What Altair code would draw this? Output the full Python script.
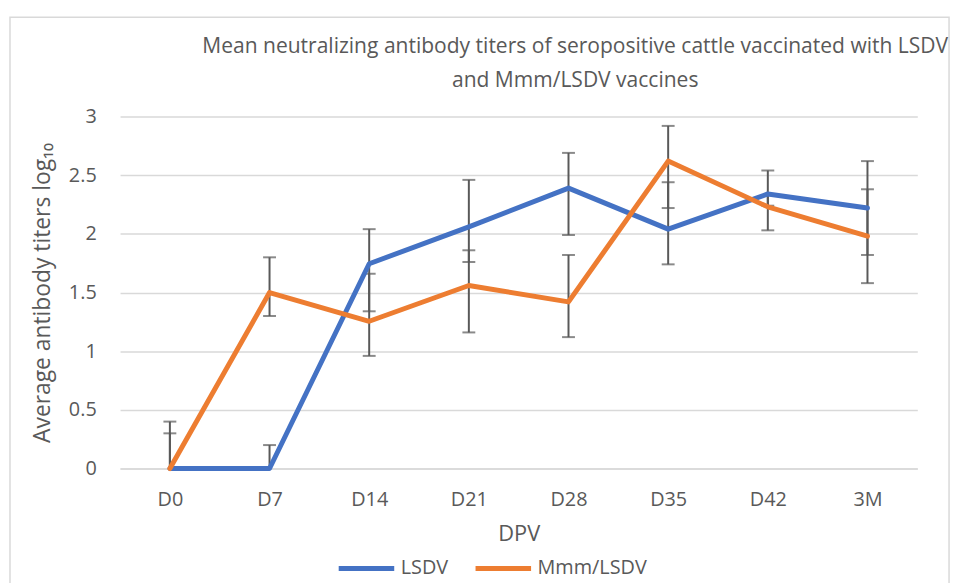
import altair as alt
import pandas as pd

days = ["D0", "D7", "D14", "D21", "D28", "D35", "D42", "3M"]
series_names = ["LSDV", "Mmm/LSDV"]

lsdv_mean = [0.0, 0.0, 1.745, 2.06, 2.39, 2.04, 2.34, 2.22]
lsdv_upper = [0.40, 0.20, 2.04, 2.46, 2.69, 2.44, 2.54, 2.62]
lsdv_lower = [0.0, 0.0, 1.34, 1.76, 1.99, 1.74, 2.24, 1.82]

mmm_mean = [0.0, 1.50, 1.255, 1.56, 1.42, 2.62, 2.23, 1.98]
mmm_upper = [0.30, 1.80, 1.66, 1.86, 1.82, 2.92, 2.33, 2.38]
mmm_lower = [0.0, 1.30, 0.96, 1.16, 1.12, 2.22, 2.03, 1.58]

colors = ["#4472C4", "#ED7D31"]

rows = []
for name, m, u, l in [("LSDV", lsdv_mean, lsdv_upper, lsdv_lower),
                      ("Mmm/LSDV", mmm_mean, mmm_upper, mmm_lower)]:
    for d, mv, uv, lv in zip(days, m, u, l):
        rows.append({"day": d, "series": name, "mean": mv, "upper": uv, "lower": lv})
df = pd.DataFrame(rows)

caps = df.melt(id_vars=["day", "series"], value_vars=["upper", "lower"],
               var_name="end", value_name="cap")
caps = caps[caps["cap"] > 0]

FONT = "Open Sans"
GREY = "#595959"

x_enc = alt.X("day:N", sort=days, scale=alt.Scale(type="point", padding=0.5),
              axis=alt.Axis(title="DPV", labelFontSize=20, labelColor=GREY,
                            titleFontSize=22, titleColor=GREY, titleFontWeight="normal",
                            labelPadding=21, titlePadding=15, ticks=False,
                            domainColor="#d9d9d9", domainWidth=1.5, labelAngle=0,
                            grid=False))
y_scale = alt.Scale(domain=[0, 3])
y_axis = alt.Axis(title="Average antibody titers log₁₀", values=[0, 0.5, 1, 1.5, 2, 2.5, 3],
                  format="~g",
                  labelFontSize=20, labelColor=GREY, titleFontSize=23, titleColor=GREY,
                  titleFontWeight="normal", labelPadding=24, titlePadding=14,
                  ticks=False, domain=False, gridColor="#d9d9d9", gridWidth=1.5)

base = alt.Chart(df)

frame = alt.Chart(df).mark_rect(fill=None, stroke="#d9d9d9", strokeWidth=1.5).encode(
    x=alt.value(-111), x2=alt.value(836), y=alt.value(-100), y2=alt.value(480)
).transform_filter(alt.datum.day == "D0").transform_filter(alt.datum.series == "LSDV")

rules = base.mark_rule(color="#595959", strokeWidth=2).encode(
    x=x_enc,
    y=alt.Y("lower:Q", scale=y_scale, axis=y_axis),
    y2="upper:Q",
)

ticks = alt.Chart(caps).mark_tick(color="#595959", thickness=2, size=13).encode(
    x=alt.X("day:N", sort=days),
    y=alt.Y("cap:Q", scale=y_scale),
)

lines = base.mark_line(strokeWidth=5, strokeCap="round", strokeJoin="round").encode(
    x=alt.X("day:N", sort=days),
    y=alt.Y("mean:Q", scale=y_scale),
    color=alt.Color("series:N", sort=series_names,
                    scale=alt.Scale(domain=series_names, range=colors),
                    legend=alt.Legend(title=None, orient="none", direction="horizontal",
                                      legendX=218, legendY=425, symbolType="stroke",
                                      symbolStrokeWidth=5, symbolSize=3136,
                                      labelFontSize=20, labelColor=GREY,
                                      columnPadding=17, labelOffset=4)),
)

chart = alt.layer(frame, rules, ticks, lines).properties(
    width=804, height=355,
    title=alt.TitleParams(
        text=["Mean neutralizing antibody titers of seropositive cattle vaccinated with LSDV",
              "and Mmm/LSDV vaccines"],
        fontSize=21.2, font=FONT, color=GREY, fontWeight="normal",
        lineHeight=34, anchor="middle", dx=57, offset=-75, frame="group"),
    autosize=alt.AutoSizeParams(type="none"),
    padding={"left": 113, "top": 107, "right": 36, "bottom": 113},
).configure(font=FONT).configure_view(stroke=None)

chart.save("out.html", embed_options={"renderer": "svg", "actions": False})
